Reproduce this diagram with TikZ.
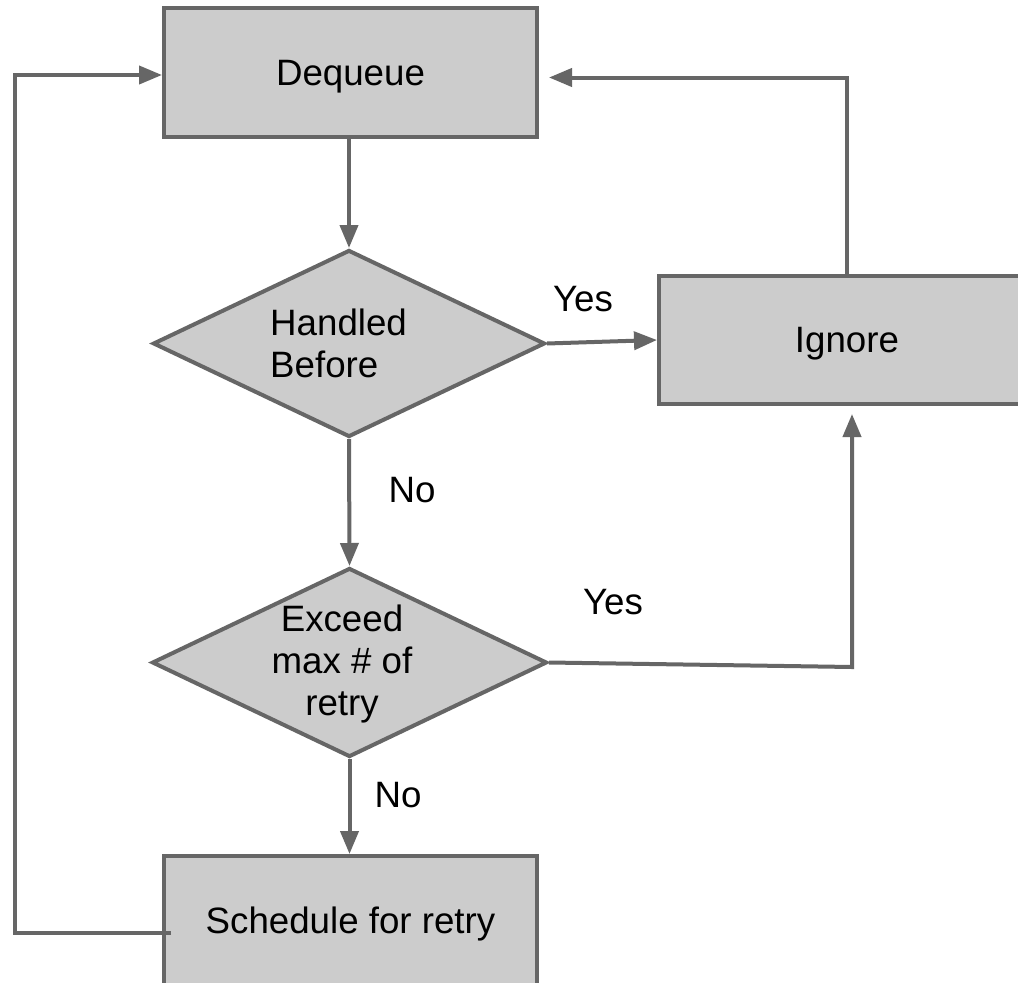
\documentclass[tikz,border=0pt]{standalone}
\usepackage{fontspec}
\setmainfont{Liberation Sans}
\usetikzlibrary{shapes.geometric,arrows.meta}
\definecolor{edgegray}{HTML}{666666}
\definecolor{boxfill}{HTML}{CCCCCC}
\begin{document}
\begin{tikzpicture}[x=1pt,y=-1pt,
  every node/.style={font=\fontsize{36.7}{42}\selectfont},
  procbox/.style={rectangle,draw=edgegray,fill=boxfill,line width=4pt,inner sep=0pt,text depth=0pt},
  decision/.style={diamond,draw=edgegray,fill=boxfill,line width=4pt,inner sep=0pt,shape aspect=2.1},
  lbl/.style={inner sep=0pt},
  flow/.style={draw=edgegray,line width=4pt,-{Triangle[length=23pt,width=18pt]}}
]
\useasboundingbox (0,0) rectangle (1018,983);
\fill[white] (0,0) rectangle (1018,983);
\clip (0,0) rectangle (1018,983);

% process boxes
\node[procbox,minimum width=373pt,minimum height=129pt] (dq) at (350.5,72.5) {Dequeue};
\node[procbox,minimum width=376pt,minimum height=128pt] (ig) at (847,340) {Ignore};
\node[procbox,minimum width=373pt,minimum height=134pt] (sc) at (350.5,923) {};
\node[lbl] (sctext) at (350.5,924) {Schedule for retry};

% decisions
\node[decision,minimum width=392pt,minimum height=187pt] (d1) at (349,343.5) {};
\node[lbl,anchor=west,align=left] (d1text) at (270,343) {Handled\\Before};
\node[decision,minimum width=395pt,minimum height=189pt] (d2) at (349.5,662.5) {};
\node[lbl,align=center] (d2text) at (342,664) {Exceed\\max \# of\\retry};

% branch labels
\node[lbl] (yes1) at (583,299) {Yes};
\node[lbl] (no1) at (412,490) {No};
\node[lbl] (yes2) at (613,602) {Yes};
\node[lbl] (no2) at (398,795) {No};

% helper points for routed connectors
\coordinate (loopc) at (15,75);
\coordinate (rcorner) at (852,667);
\coordinate (scout) at (171,933);

% connectors
\draw[flow] (dq.south -| d1.north) -- (d1.north);
\draw[flow] (d1.east) -- (ig.west);
\draw[flow,shorten >=10pt] (ig.north) |- ([yshift=-5pt]dq.east);
\draw[flow] (d1.south) -- (d2.north);
\draw[flow,shorten >=8pt] (d2.east) -- (rcorner) -- (rcorner |- ig.south);
\draw[flow] (d2.south) -- (sc.north -| d2.south);
\draw[flow] (scout) -| (loopc) -- (loopc -| dq.west);
\end{tikzpicture}
\end{document}
